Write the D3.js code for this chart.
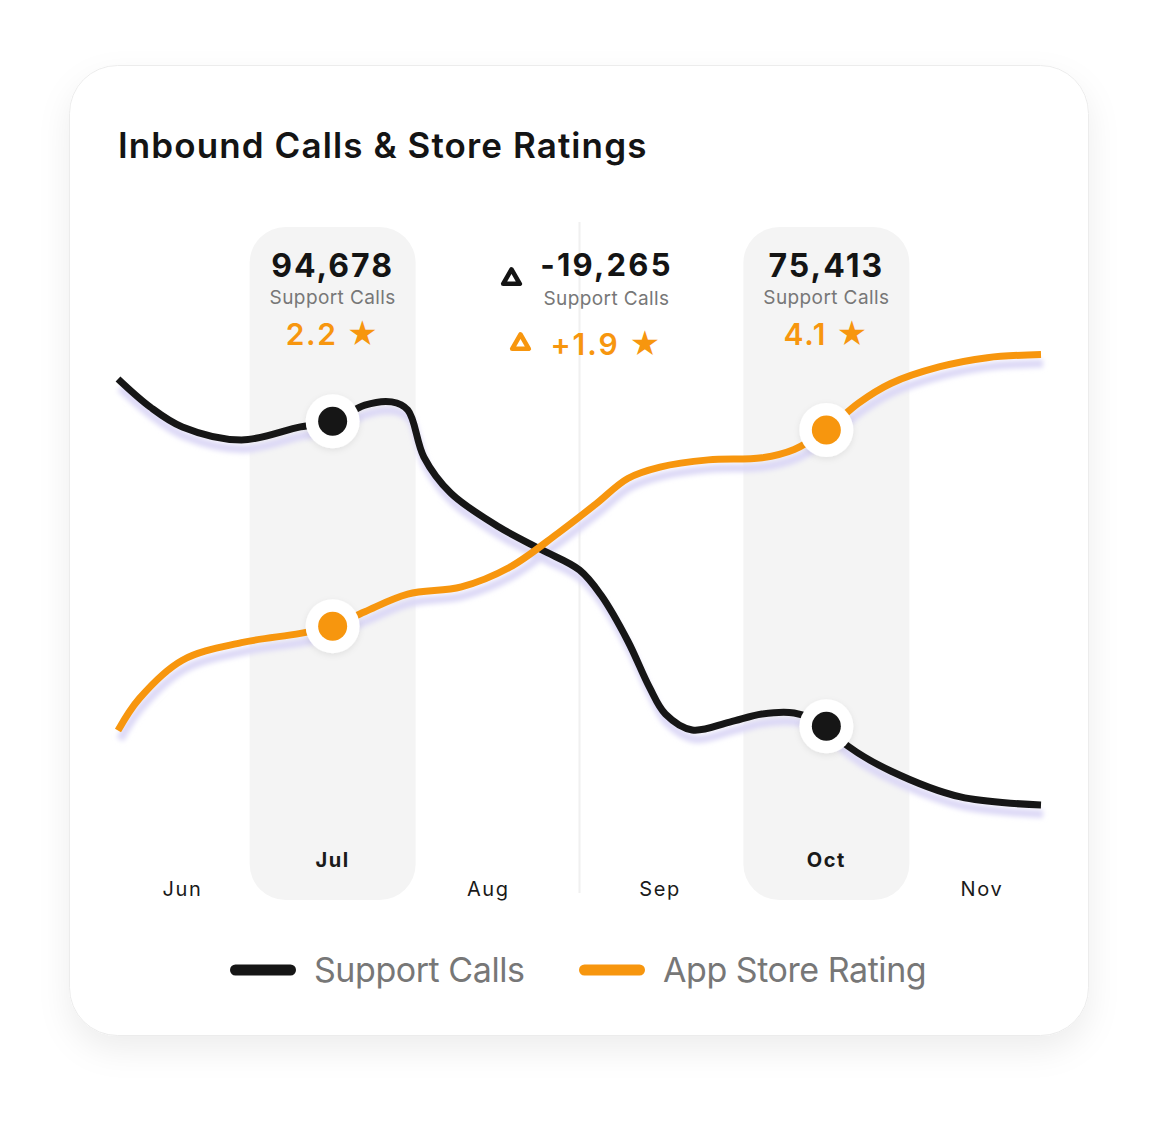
<!DOCTYPE html>
<html>
<head>
<meta charset="utf-8">
<script src="https://cdnjs.cloudflare.com/ajax/libs/d3/7.8.5/d3.min.js"></script>
<style>
    body { margin: 0; background: #fff; }
    svg { display: block; font-family: Inter, "Noto Sans", sans-serif; }
</style>
</head>
<body>
<div id="chart"></div>
<script>
// ---- data ----
const callDates = ["2023-06-05", "2023-06-11", "2023-06-17", "2023-06-28", "2023-07-09", "2023-07-15",
    "2023-07-21", "2023-07-26", "2023-07-29", "2023-08-01", "2023-08-06", "2023-08-15",
    "2023-08-23", "2023-08-30", "2023-09-03", "2023-09-08", "2023-09-12", "2023-09-15", "2023-09-20",
    "2023-09-27", "2023-10-03", "2023-10-09", "2023-10-15", "2023-10-19", "2023-10-27", "2023-11-09",
    "2023-11-24"];
const callValues = [97350, 95580, 94320, 93500, 94320, 94678,
    95700, 95900, 95390, 92420, 90150, 88000,
    86550, 85280, 83700, 80800, 77900, 76190, 75180,
    75680, 76190, 76250, 75413, 74170, 72590, 70950,
    70440];

const ratingDates = ["2023-06-05", "2023-06-09", "2023-06-17", "2023-06-28", "2023-07-09", "2023-07-15",
    "2023-07-21", "2023-07-29", "2023-08-08", "2023-08-17", "2023-08-26", "2023-09-02", "2023-09-08",
    "2023-09-14", "2023-09-23", "2023-10-03", "2023-10-09", "2023-10-15", "2023-10-21", "2023-10-27",
    "2023-11-05", "2023-11-14", "2023-11-24"];
const ratingValues = [1.19, 1.50, 1.87, 2.04, 2.13, 2.2,
    2.34, 2.51, 2.58, 2.77, 3.10, 3.38, 3.63,
    3.74, 3.81, 3.83, 3.91, 4.1, 4.36, 4.55,
    4.71, 4.80, 4.83];

const monthLabels = ["Jun", "Jul", "Aug", "Sep", "Oct", "Nov"];
const monthTickDates = ["2023-06-17", "2023-07-15", "2023-08-13", "2023-09-14", "2023-10-15", "2023-11-13"];

const highlightDates = ["2023-07-15", "2023-10-15"];
const highlightMonths = ["Jul", "Oct"];
const highlightCalls = [94678, 75413];
const highlightRatings = [2.2, 4.1];

const seriesNames = ["Support Calls", "App Store Rating"];
const seriesColors = ["#161616", "#f7960e"];

const titleText = "Inbound Calls & Store Ratings";

// ---- setup ----
const parseDate = d3.timeParse("%Y-%m-%d");
const W = 1175, H = 1128;

const svg = d3.select("#chart").append("svg")
    .attr("width", W)
    .attr("height", H);

const defs = svg.append("defs");

let cardShadow = defs.append("filter").attr("id", "cardShadow")
    .attr("x", "-20%").attr("y", "-20%").attr("width", "140%").attr("height", "140%");
cardShadow.append("feDropShadow")
    .attr("dx", 0).attr("dy", 14).attr("stdDeviation", 16)
    .attr("flood-color", "#000").attr("flood-opacity", 0.07);

let lineShadow = defs.append("filter").attr("id", "lineShadow")
    .attr("x", "-10%").attr("y", "-30%").attr("width", "120%").attr("height", "160%");
lineShadow.append("feGaussianBlur").attr("stdDeviation", 2.5);

let dotShadow = defs.append("filter").attr("id", "dotShadow")
    .attr("x", "-50%").attr("y", "-50%").attr("width", "200%").attr("height", "200%");
dotShadow.append("feDropShadow")
    .attr("dx", 0).attr("dy", 2).attr("stdDeviation", 3)
    .attr("flood-color", "#000").attr("flood-opacity", 0.08);

// card
svg.append("rect")
    .attr("x", 69.5).attr("y", 65.5)
    .attr("width", 1019).attr("height", 970)
    .attr("rx", 48)
    .attr("fill", "#fff")
    .attr("stroke", "#ececec")
    .attr("filter", "url(#cardShadow)");

svg.append("text")
    .attr("x", 118).attr("y", 158)
    .attr("font-size", 35)
    .attr("font-weight", 600)
    .attr("letter-spacing", 1.1)
    .attr("fill", "#141414")
    .text(titleText);

// ---- scales ----
const callData = callDates.map((d, i) => ({date: parseDate(d), value: callValues[i]}));
const ratingData = ratingDates.map((d, i) => ({date: parseDate(d), value: ratingValues[i]}));

const x = d3.scaleTime()
    .domain(d3.extent(callData, d => d.date))
    .range([118, 1041]);

const yCalls = d3.scaleLinear()
    .domain([70000, 100000])
    .range([812, 337]);

const yRating = d3.scaleLinear()
    .domain([0.4, 5])
    .range([812, 337]);

const bandW = 166;

// highlight bands
svg.append("g").selectAll("rect")
    .data(highlightDates)
    .join("rect")
    .attr("x", d => x(parseDate(d)) - bandW / 2)
    .attr("y", 227)
    .attr("width", bandW)
    .attr("height", 673)
    .attr("rx", 36)
    .attr("fill", "#f4f4f4");

// divider between highlights
const midX = (x(parseDate(highlightDates[0])) + x(parseDate(highlightDates[1]))) / 2;
svg.append("line")
    .attr("x1", midX).attr("x2", midX)
    .attr("y1", 222).attr("y2", 893)
    .attr("stroke", "#f0f0f0")
    .attr("stroke-width", 2);

// ---- lines ----
const callLine = d3.line()
    .x(d => x(d.date))
    .y(d => yCalls(d.value))
    .curve(d3.curveCatmullRom.alpha(0.5));

const ratingLine = d3.line()
    .x(d => x(d.date))
    .y(d => yRating(d.value))
    .curve(d3.curveCatmullRom.alpha(0.5));

const shadows = svg.append("g")
    .attr("transform", "translate(2,9)")
    .attr("filter", "url(#lineShadow)");
shadows.append("path").datum(callData)
    .attr("d", callLine)
    .attr("fill", "none").attr("stroke", "#dcd8f6").attr("stroke-width", 8);
shadows.append("path").datum(ratingData)
    .attr("d", ratingLine)
    .attr("fill", "none").attr("stroke", "#dcd8f6").attr("stroke-width", 8);

svg.append("path").datum(callData)
    .attr("d", callLine)
    .attr("fill", "none")
    .attr("stroke", seriesColors[0])
    .attr("stroke-width", 7);

svg.append("path").datum(ratingData)
    .attr("d", ratingLine)
    .attr("fill", "none")
    .attr("stroke", seriesColors[1])
    .attr("stroke-width", 7);

// ---- markers ----
const markers = [];
highlightDates.forEach((d, i) => {
    markers.push({date: parseDate(d), y: yCalls(highlightCalls[i]), color: seriesColors[0]});
    markers.push({date: parseDate(d), y: yRating(highlightRatings[i]), color: seriesColors[1]});
});

const mg = svg.append("g").selectAll("g")
    .data(markers)
    .join("g")
    .attr("transform", d => `translate(${x(d.date)},${d.y})`);
mg.append("circle").attr("r", 27).attr("fill", "#fff").attr("filter", "url(#dotShadow)");
mg.append("circle").attr("r", 14.5).attr("fill", d => d.color);

// ---- month labels ----
svg.append("g").selectAll("text")
    .data(monthLabels)
    .join("text")
    .attr("x", (d, i) => x(parseDate(monthTickDates[i])))
    .attr("y", d => highlightMonths.includes(d) ? 867 : 896)
    .attr("text-anchor", "middle")
    .attr("font-size", 20)
    .attr("letter-spacing", 1.6)
    .attr("font-weight", d => highlightMonths.includes(d) ? 700 : 400)
    .attr("fill", "#1a1a1a")
    .text(d => d);

// ---- highlight annotations ----
const fmt = d3.format(",");
const ann = svg.append("g").selectAll("g")
    .data(highlightDates)
    .join("g")
    .attr("transform", d => `translate(${x(parseDate(d))},0)`);
ann.append("text")
    .attr("y", 277).attr("text-anchor", "middle")
    .attr("font-size", 32).attr("font-weight", 700).attr("letter-spacing", 2)
    .attr("fill", "#141414")
    .text((d, i) => fmt(highlightCalls[i]));
ann.append("text")
    .attr("y", 304).attr("text-anchor", "middle")
    .attr("font-size", 19).attr("letter-spacing", 0.4)
    .attr("fill", "#777")
    .text(seriesNames[0]);
ann.append("text")
    .attr("y", 345).attr("text-anchor", "middle")
    .attr("font-size", 30).attr("font-weight", 600).attr("letter-spacing", 1.6)
    .attr("fill", seriesColors[1])
    .text((d, i) => highlightRatings[i].toFixed(1) + " \u2605");

// ---- delta annotation ----
const dCalls = highlightCalls[1] - highlightCalls[0];
const dRating = highlightRatings[1] - highlightRatings[0];
const signed = (v, f) => (v < 0 ? "-" : "+") + f(Math.abs(v));

const delta = svg.append("g").attr("transform", `translate(${midX},0)`);
delta.append("text")
    .attr("x", 27).attr("y", 276).attr("text-anchor", "middle")
    .attr("font-size", 31).attr("font-weight", 700).attr("letter-spacing", 2.2)
    .attr("fill", "#141414")
    .text(signed(dCalls, fmt));
delta.append("text")
    .attr("x", 27).attr("y", 305).attr("text-anchor", "middle")
    .attr("font-size", 19).attr("letter-spacing", 0.4)
    .attr("fill", "#777")
    .text(seriesNames[0]);
delta.append("text")
    .attr("x", 27).attr("y", 355).attr("text-anchor", "middle")
    .attr("font-size", 30).attr("font-weight", 600).attr("letter-spacing", 2)
    .attr("fill", seriesColors[1])
    .text(signed(dRating, v => v.toFixed(1)) + " \u2605");

const tri = d3.symbol().type(d3.symbolTriangle).size(120);
delta.append("path")
    .attr("d", tri())
    .attr("transform", "translate(-68,279)")
    .attr("fill", "none").attr("stroke", "#141414")
    .attr("stroke-width", 4.6).attr("stroke-linejoin", "round");
delta.append("path")
    .attr("d", tri())
    .attr("transform", "translate(-59,344)")
    .attr("fill", "none").attr("stroke", seriesColors[1])
    .attr("stroke-width", 4.6).attr("stroke-linejoin", "round");

// ---- legend ----
const legendX = [230, 579];
const lg = svg.append("g").selectAll("g")
    .data(seriesNames)
    .join("g")
    .attr("transform", (d, i) => `translate(${legendX[i]},970)`);
lg.append("rect")
    .attr("x", 0).attr("y", -5.5)
    .attr("width", 66).attr("height", 11).attr("rx", 5.5)
    .attr("fill", (d, i) => seriesColors[i]);
lg.append("text")
    .attr("x", 84).attr("y", 12)
    .attr("font-size", 34).attr("letter-spacing", -0.45)
    .attr("fill", "#777")
    .text(d => d);
</script>
</body>
</html>
